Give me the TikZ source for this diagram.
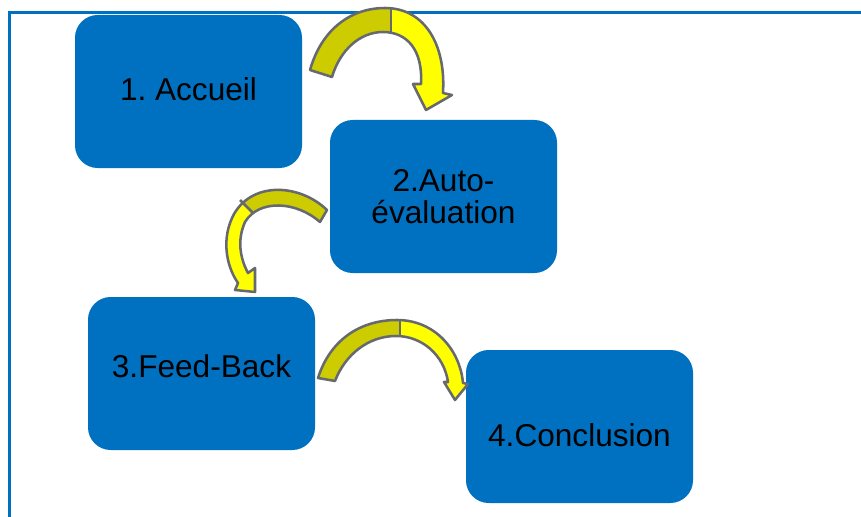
\documentclass[tikz,border=0pt]{standalone}
\usepackage{fontspec}
\setmainfont{Liberation Sans}
\usetikzlibrary{positioning}
\definecolor{boxblue}{RGB}{0,112,192}
\definecolor{arrowolive}{RGB}{204,204,0}
\definecolor{arrowyellow}{RGB}{255,255,0}
\definecolor{arrowgrey}{RGB}{102,106,112}

\begin{document}
\begin{tikzpicture}[x=0.75pt,y=-0.75pt,
    every node/.style={font=\fontsize{23.7}{23.5}\selectfont},
    stepbox/.style={fill=boxblue,rounded corners=17pt,minimum width=170.25pt,
      minimum height=114.75pt,inner sep=0pt,outer sep=0pt,align=center},
    bendarrow/.style={draw=arrowgrey,line width=1.9pt,line join=round}]
  \useasboundingbox (0,0) rectangle (861,517);
  % frame
  \draw[boxblue,line width=2.25pt] (9.5,517) -- (9.5,12.5) -- (861,12.5);

  % steps
  \node[stepbox,text depth=3pt] (accueil) at (188.5,91.5) {1.\ Accueil};
  \node[stepbox,below right=-36pt and 21pt of accueil] (auto)
    {2.Auto-\\évaluation};
  \node[stepbox,text depth=10.5pt,below left=18pt and 11.25pt of auto] (feedback)
    {3.Feed-Back};
  \node[stepbox,text height=30pt,below right=-75pt and 113.25pt of feedback] (concl)
    {4.Conclusion};

  % curved arrows
  \path[save path=\bendA] (310,70) .. controls (322,28) and (352,8) .. (385,8)
    .. controls (425,8) and (446,45) .. (443,93) -- (452,95) -- (426,110)
    -- (413,84) -- (421,84) .. controls (423,50) and (407,32) .. (383,32)
    .. controls (360,32) and (340,50) .. (332,77) -- cycle;
  \path[save path=\bendB] (327,210) .. controls (300,184) and (253,181) .. (234,214)
    .. controls (221,238) and (226,266) .. (238,283) -- (235,290) -- (255,292)
    -- (255,268) -- (248,273) .. controls (240,258) and (237,240) .. (245,222)
    .. controls (259,199) and (296,201) .. (320,222) -- cycle;
  \path[save path=\bendC] (318,378) .. controls (330,340) and (360,320) .. (397,320)
    .. controls (435,320) and (460,350) .. (463,383) -- (468,384) -- (455,400)
    -- (444,382) -- (448,382) .. controls (444,355) and (422,336) .. (396,336)
    .. controls (368,336) and (345,355) .. (335,381) -- cycle;

  \fill[arrowyellow,use path=\bendA];
  \fill[arrowyellow,use path=\bendB];
  \fill[arrowyellow,use path=\bendC];
  \begin{scope}
    \clip (300,0) rectangle (391,120);
    \fill[arrowolive,use path=\bendA];
  \end{scope}
  \begin{scope}
    \clip (205,165) -- (285,245) -- (350,245) -- (350,165) -- cycle;
    \fill[arrowolive,use path=\bendB];
  \end{scope}
  \begin{scope}
    \clip (300,300) rectangle (400,400);
    \fill[arrowolive,use path=\bendC];
  \end{scope}
  \draw[bendarrow,use path=\bendA];
  \draw[bendarrow,use path=\bendB];
  \draw[bendarrow,use path=\bendC];
  \draw[bendarrow] (391,8) -- (391,33);
  \draw[bendarrow] (240,200) -- (253,213);
  \draw[bendarrow] (400,320) -- (400,336);
\end{tikzpicture}
\end{document}
